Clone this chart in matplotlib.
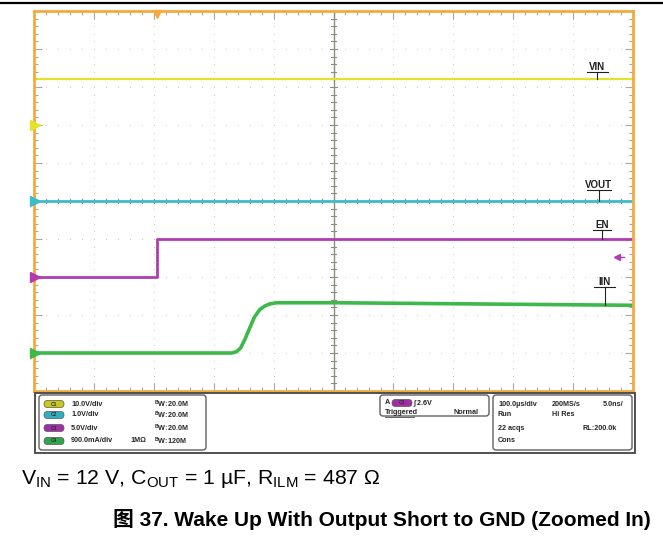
import numpy as np
import matplotlib
matplotlib.use("Agg")
import matplotlib.pyplot as plt
from matplotlib.patches import FancyBboxPatch, Rectangle

plt.rcParams['font.family'] = ['Liberation Sans', 'DejaVu Sans']
plt.rcParams['mathtext.fontset'] = 'custom'
plt.rcParams['mathtext.rm'] = 'Liberation Sans'
plt.rcParams['mathtext.bf'] = 'Liberation Sans:bold'

W, H = 663, 537

# time base: 100 us/div, trigger at t = 0
t_left, t_right = -205.0, 795.0
t_div = 100.0

# channel setup: units per div and ground position in div
ch_labels = ['VIN', 'VOUT', 'EN', 'IIN']
ch_colors = ['#e2e22a', '#3dbccb', '#b03cb2', '#3db84a']
ch_scale = [10.0, 1.0, 5.0, 0.9]
ch_offset = [2.0, 0.0, -2.0, -4.0]

# captured waveforms (time in us)
vin_t = [-205, 795]
vin_v = [12.2, 12.2]
vout_t = [-205, 795]
vout_v = [0.0, 0.0]
en_t = [-205, 0, 0, 795]
en_v = [0.0, 0.0, 5.0, 5.0]
iin_t = [-205, 125, 133, 140, 147, 155, 163, 172, 180, 188, 200, 300, 795]
iin_a = [0.0, 0.0, 0.03, 0.12, 0.32, 0.59, 0.85, 1.03, 1.11, 1.16, 1.19, 1.19, 1.13]

trig_level = 2.6

fig = plt.figure(figsize=(W / 100, H / 100), dpi=100)
fig.patch.set_facecolor('white')

ax = fig.add_axes([34 / W, 1 - 391 / H, 599 / W, 380 / H])
ax.set_xlim(t_left, t_right)
ax.set_ylim(-5, 5)

orange = '#f4aa3c'
for s in ax.spines.values():
    s.set_color(orange)
    s.set_linewidth(2)
    s.set_zorder(5)

major_x = t_left + t_div * np.arange(0, 11)
minor_x = t_left + t_div / 5 * np.arange(0, 51)
major_y = np.arange(-5, 6)
minor_y = np.arange(-5, 5.01, 0.2)
ax.set_xticks(major_x)
ax.set_xticks(minor_x, minor=True)
ax.set_yticks(major_y)
ax.set_yticks(minor_y, minor=True)
ax.tick_params(which='both', direction='in', top=True, right=True,
               labelbottom=False, labelleft=False, color='#a8a8a8', width=0.8)
ax.tick_params(which='major', length=6)
ax.tick_params(which='minor', length=3)

# dotted graticule
dot_c = '#c8c8c8'
t_center = t_left + 5 * t_div
for xm in major_x[1:-1]:
    if xm != t_center:
        ax.scatter(np.full(len(minor_y), xm), minor_y, s=0.5, color=dot_c, lw=0, zorder=1)
for ym in major_y[1:-1]:
    if ym != 0:
        ax.scatter(minor_x, np.full(len(minor_x), ym), s=0.5, color=dot_c, lw=0, zorder=1)

# centre crosshair with ticks
cross_c = '#8c8c80'
ax.axvline(t_center, color=cross_c, lw=1, zorder=2)
ax.axhline(0, color=cross_c, lw=1, zorder=2)
for yy in minor_y:
    hl = 6 if abs(yy - round(yy)) < 1e-6 else 4
    ax.plot([t_center - hl, t_center + hl], [yy, yy], color=cross_c, lw=0.8, zorder=2)
for xx in minor_x:
    ax.plot([xx, xx], [-0.06, 0.06], color=cross_c, lw=0.8, zorder=2)

# waveforms
traces = [(vin_t, vin_v, 1.6), (vout_t, vout_v, 2.0), (en_t, en_v, 2.0), (iin_t, iin_a, 2.6)]
for i, (tt, vv, lw) in enumerate(traces):
    y = np.array(vv) / ch_scale[i] + ch_offset[i]
    ax.plot(tt, y, color=ch_colors[i], lw=lw, zorder=3, solid_joinstyle='round')

# ground markers on the left edge
for i in range(4):
    ax.plot(t_left + 2, ch_offset[i], marker='>', ms=7, color=ch_colors[i],
            clip_on=False, zorder=6)

# trigger position and trigger level
ax.plot(0, 4.93, marker='v', ms=6, color=orange, clip_on=False, zorder=6)
trig_y = trig_level / ch_scale[2] + ch_offset[2]
ax.plot([768, 780], [trig_y, trig_y], color=ch_colors[2], lw=1, zorder=6)
ax.plot(768, trig_y, marker='<', ms=4, color=ch_colors[2], zorder=6)

# trace name tags
tag_x = [735, 738, 743, 748]
tag_text_y = [3.53, 0.42, -0.63, -2.13]
tag_line_y = [3.40, 0.28, -0.77, -2.27]
for i in range(4):
    end_val = traces[i][1][-1]
    y_end = end_val / ch_scale[i] + ch_offset[i]
    ax.text(tag_x[i], tag_text_y[i], ch_labels[i], ha='center', va='center',
            fontsize=7, fontweight='bold', color='#202020', zorder=7)
    half = 10 + 2.5 * len(ch_labels[i])
    ax.plot([tag_x[i] - half, tag_x[i] + half], [tag_line_y[i], tag_line_y[i]],
            color='#202020', lw=0.8, zorder=7)
    ax.plot([tag_x[i], tag_x[i]], [tag_line_y[i], y_end], color='#202020', lw=0.8, zorder=7)

# overlay in pixel coordinates for panel and captions
ov = fig.add_axes([0, 0, 1, 1])
ov.set_xlim(0, W)
ov.set_ylim(H, 0)
ov.axis('off')
ov.patch.set_alpha(0)

ov.plot([0, W], [3, 3], color='black', lw=1.6)

ov.add_patch(Rectangle((35, 393), 600, 60, fc='white', ec='#505050', lw=1.4))
box_ec = '#606060'
ov.add_patch(FancyBboxPatch((39, 395), 167, 55, boxstyle='round,pad=0,rounding_size=3',
                            fc='white', ec=box_ec, lw=1))
ov.add_patch(FancyBboxPatch((380, 395), 109, 21, boxstyle='round,pad=0,rounding_size=3',
                            fc='white', ec=box_ec, lw=1))
ov.add_patch(FancyBboxPatch((493, 395), 139, 55, boxstyle='round,pad=0,rounding_size=3',
                            fc='white', ec=box_ec, lw=1))

pill_colors = ['#c9c81e', '#2fb0c0', '#a22ea6', '#2fa64a']
ch_text = ['10.0V/div', '1.0V/div', '5.0V/div', '900.0mA/div']
bw_text = ['20.0M', '20.0M', '20.0M', '120M']
row_y = [404, 415, 428, 441]
tc = '#262626'
fs = 5.2


def pill(x, y, color, label):
    ov.add_patch(FancyBboxPatch((x, y - 3.5), 20, 7, boxstyle='round,pad=0,rounding_size=3.5',
                                fc=color, ec='#555555', lw=0.5))
    ov.text(x + 10, y, label, ha='center', va='center', fontsize=3.6,
            fontweight='bold', color='#303030')


for i in range(4):
    pill(44, row_y[i], pill_colors[i], 'C%d' % (i + 1))
    ov.text(71, row_y[i], ch_text[i], ha='left', va='center', fontsize=fs,
            fontweight='bold', color=tc)
    ov.text(154, row_y[i], r'$^{\mathregular{B}}$W:' + bw_text[i], ha='left', va='center',
            fontsize=fs, fontweight='bold', color=tc)
ov.text(130, row_y[3], '1M\u03a9', ha='left', va='center', fontsize=fs,
        fontweight='bold', color=tc)

# trigger box
ov.text(385, 403, 'A', ha='left', va='center', fontsize=fs, fontweight='bold', color=tc)
pill(392, 403, pill_colors[2], 'C3')
ov.text(413, 403, '\u222b 2.6V', ha='left', va='center', fontsize=fs, fontweight='bold', color=tc)
ov.text(385, 413, 'Triggered', ha='left', va='center', fontsize=fs, fontweight='bold', color=tc)
ov.plot([385, 414], [416.5, 416.5], color=tc, lw=0.5)
ov.text(478, 413, 'Normal', ha='right', va='center', fontsize=fs, fontweight='bold', color=tc)

# acquisition box
ov.text(498, row_y[0], '100.0\u00b5s/div', ha='left', va='center', fontsize=fs, fontweight='bold', color=tc)
ov.text(552, row_y[0], '200MS/s', ha='left', va='center', fontsize=fs, fontweight='bold', color=tc)
ov.text(623, row_y[0], '5.0ns/', ha='right', va='center', fontsize=fs, fontweight='bold', color=tc)
ov.text(498, row_y[1], 'Run', ha='left', va='center', fontsize=fs, fontweight='bold', color=tc)
ov.text(552, row_y[1], 'Hi Res', ha='left', va='center', fontsize=fs, fontweight='bold', color=tc)
ov.text(498, row_y[2], '22 acqs', ha='left', va='center', fontsize=fs, fontweight='bold', color=tc)
ov.text(617, row_y[2], 'RL:200.0k', ha='right', va='center', fontsize=fs, fontweight='bold', color=tc)
ov.text(498, row_y[3], 'Cons', ha='left', va='center', fontsize=fs, fontweight='bold', color=tc)

# captions
caption = (r'V$_\mathregular{IN}$ = 12 V, C$_\mathregular{OUT}$ = 1 ' + '\u00b5F, '
           + r'R$_\mathregular{ILM}$ = 487 ' + '\u03a9')
ov.text(21, 484, caption, ha='left', va='baseline', fontsize=15.3, color='black')
ov.text(651, 526, '\u56fe 37. Wake Up With Output Short to GND (Zoomed In)',
        ha='right', va='baseline', fontsize=15, fontweight='bold', color='black',
        family=['Liberation Sans', 'Noto Sans CJK SC'])

fig.savefig('out.png', dpi=100)
